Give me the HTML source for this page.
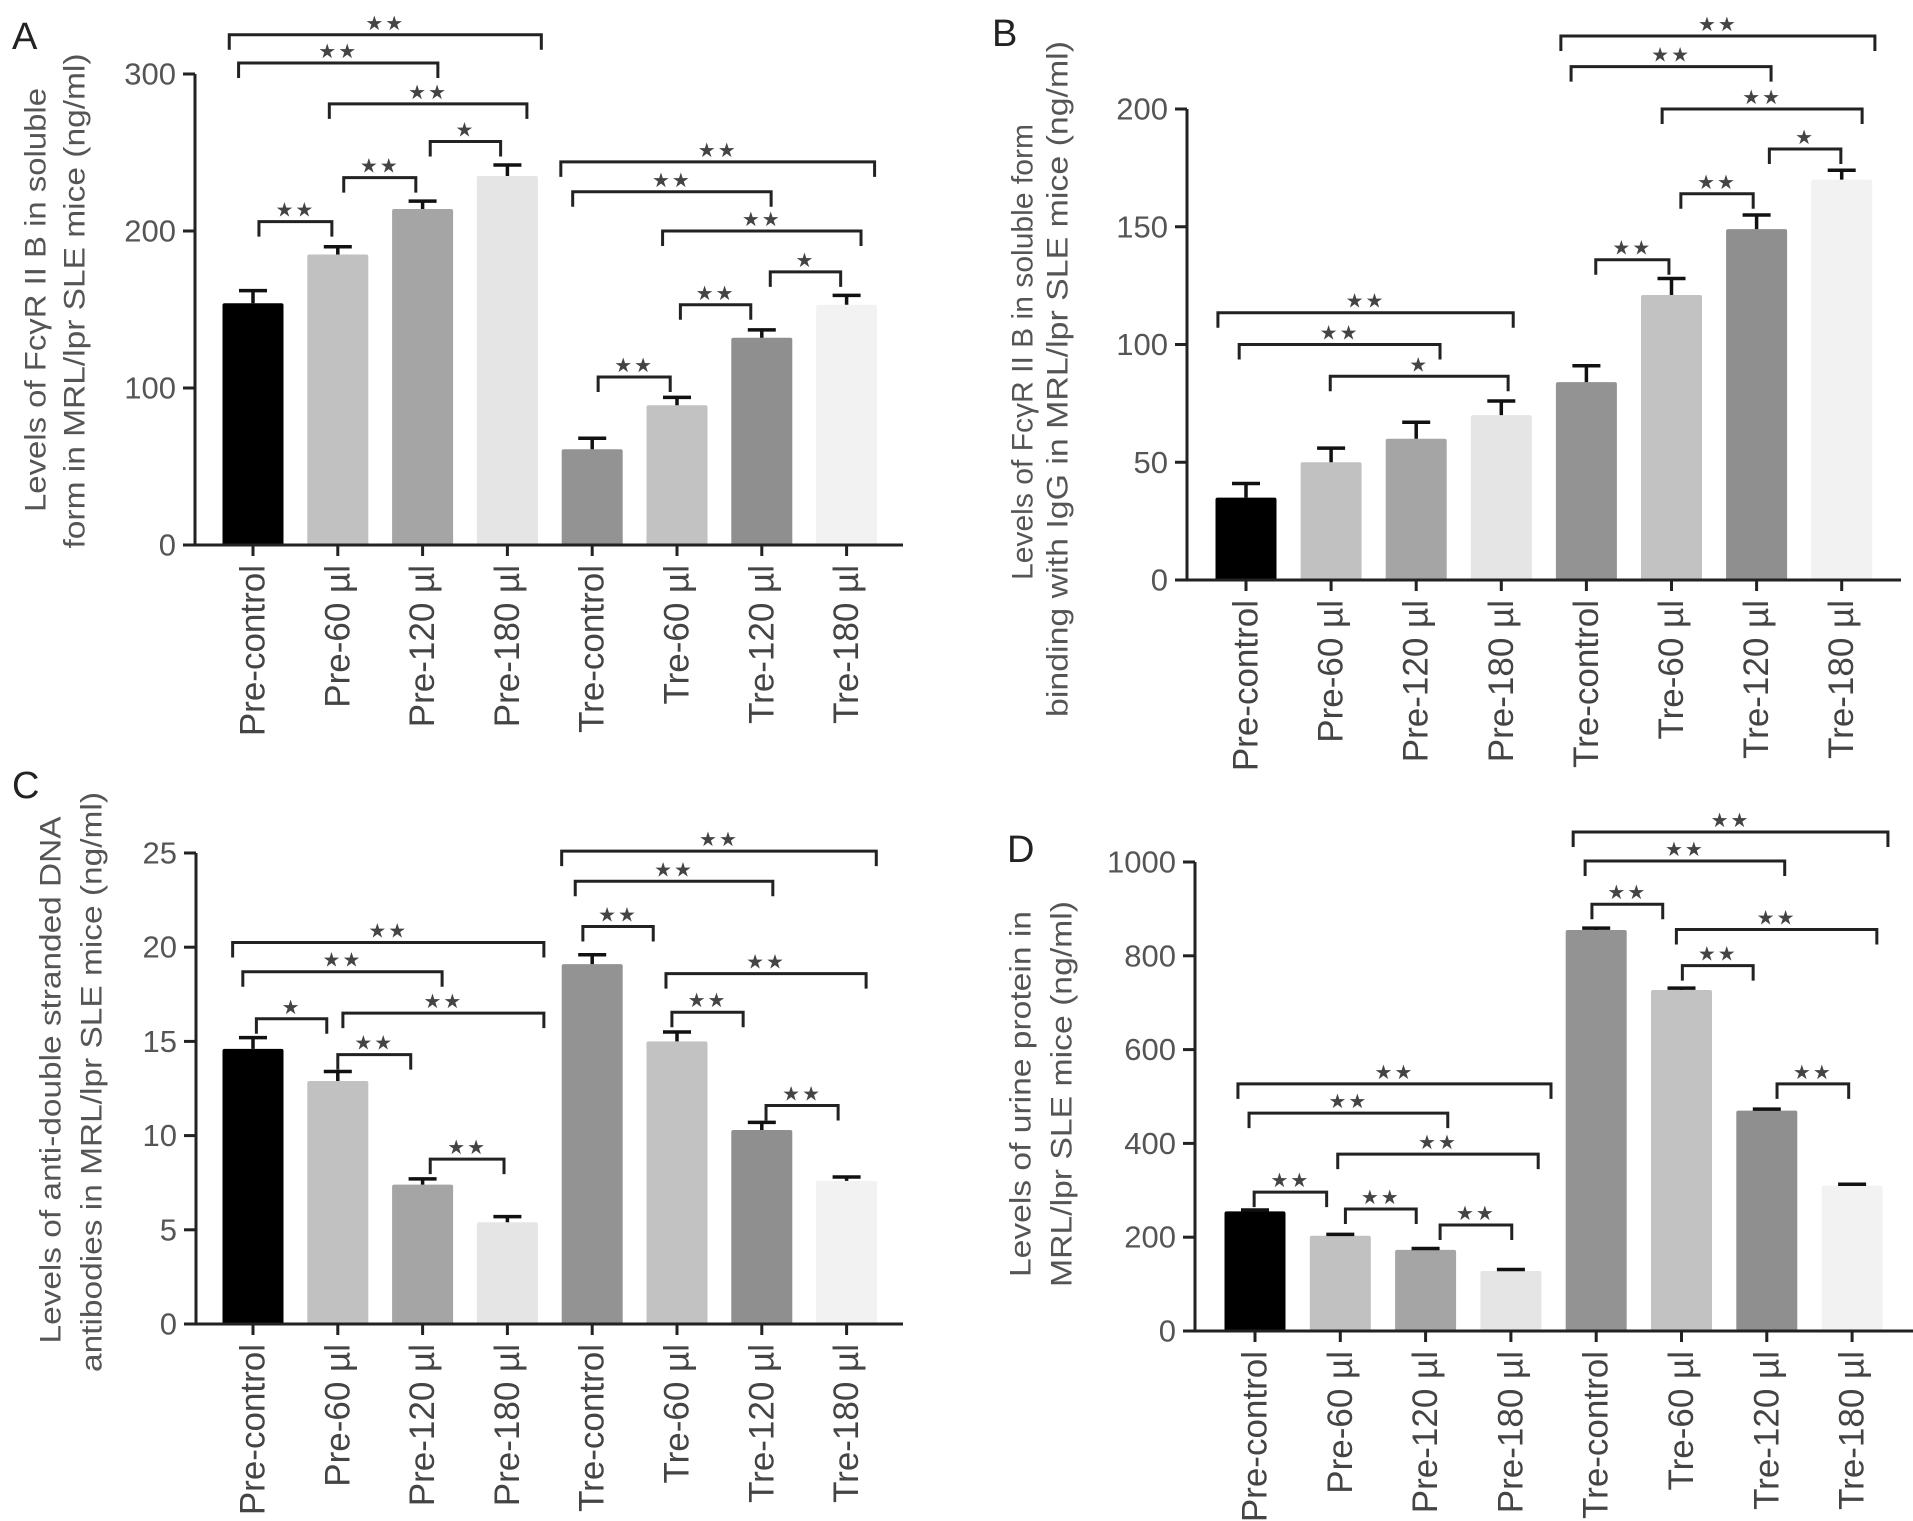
<!DOCTYPE html>
<html><head><meta charset="utf-8"><style>
html,body{margin:0;padding:0;background:#fff;}
svg{display:block;font-family:"Liberation Sans",sans-serif;}
</style></head>
<body>
<svg id="fig" width="1913" height="1521" viewBox="0 0 1913 1521" xmlns="http://www.w3.org/2000/svg"></svg>
<script>
const categories = ["Pre-control","Pre-60 \u00b5l","Pre-120 \u00b5l","Pre-180 \u00b5l","Tre-control","Tre-60 \u00b5l","Tre-120 \u00b5l","Tre-180 \u00b5l"];
const barColors = ["#000000","#c1c1c1","#a5a5a5","#e5e5e5","#939393","#c2c2c2","#8f8f8f","#f2f2f2"];

const valuesA = [154,185,214,235,61,89,132,153];
const errorsA = [8,5,5,7,7,5,5,6];
const ticksA = [0,100,200,300];
const bracketsA = [[-0.28,3.40,325,"**"],[-0.17,2.18,307,"**"],[0.90,3.23,281,"**"],[2.09,2.92,257,"*"],[1.07,1.92,234,"**"],[0.07,0.93,206,"**"],[3.63,7.33,244,"**"],[3.77,6.11,225,"**"],[4.83,7.17,200,"**"],[6.10,6.93,174,"*"],[5.04,5.87,153,"**"],[4.07,4.92,107,"**"]];

const valuesB = [35,50,60,70,84,121,149,170];
const errorsB = [6,6,7,6,7,7,6,4];
const ticksB = [0,50,100,150,200];
const bracketsB = [[3.70,7.39,231,"**"],[3.82,6.17,218,"**"],[4.89,7.24,200,"**"],[6.15,6.99,183,"*"],[5.11,5.96,164,"**"],[4.11,4.97,136,"**"],[-0.33,3.14,113.5,"**"],[-0.08,2.28,100,"**"],[0.99,3.08,86.5,"*"]];

const valuesC = [14.6,12.9,7.4,5.4,19.1,15.0,10.3,7.6];
const errorsC = [0.6,0.5,0.3,0.3,0.5,0.5,0.4,0.2];
const ticksC = [0,5,10,15,20,25];
const bracketsC = [[3.64,7.35,25.1,"**"],[3.80,6.13,23.5,"**"],[3.89,4.72,21.1,"**"],[4.87,7.23,18.6,"**"],[4.94,5.78,16.55,"**"],[6.05,6.90,11.6,"**"],[-0.24,3.43,20.25,"**"],[-0.12,2.23,18.7,"**"],[0.04,0.87,16.2,"*"],[1.06,3.43,16.5,"**"],[1.00,1.86,14.3,"**"],[2.09,2.96,8.75,"**"]];

const valuesD = [255,203,173,128,855,727,470,310];
const errorsD = [3,3,3,3,4,4,3,3];
const ticksD = [0,200,400,600,800,1000];
const bracketsD = [[3.73,7.42,1064,"**"],[3.87,6.21,1002,"**"],[3.95,4.78,910,"**"],[4.94,7.29,856,"**"],[5.01,5.84,779,"**"],[6.12,6.96,527,"**"],[-0.20,3.47,527,"**"],[-0.07,2.26,464.5,"**"],[0.97,3.32,377,"**"],[-0.01,0.84,296,"**"],[1.06,1.89,260,"**"],[2.17,3.01,226,"**"]];

const NS = "http://www.w3.org/2000/svg";
const svg = document.getElementById("fig");
function mk(tag, attrs, parent){
  const e = document.createElementNS(NS, tag);
  for (const k in attrs) e.setAttribute(k, attrs[k]);
  (parent||svg).appendChild(e);
  return e;
}

function panel(cfg){
  const g = mk("g", {});
  
  
  const yScale = v => cfg.zeroY - (cfg.zeroY - cfg.topY) * v / cfg.max;
  const xScale = i => cfg.c0 + cfg.step * i;
  const bw = 61;

  const L = mk("text", {x: cfg.letterX, y: cfg.letterY, "font-size": 38, fill: "#222"}, g);
  L.textContent = cfg.id;
  
  

  cfg.values.forEach((v, i) => {
    const x = xScale(i), y = yScale(v);
    const r = mk("rect", {x: x - bw/2, y: y, width: bw, height: cfg.zeroY - y, fill: barColors[i], rx: 2}, g);
    
    
    const ye = yScale(v + cfg.errors[i]);
    const eb = mk("path", {d: `M${x},${y} V${ye} M${x-14},${ye} H${x+14}`, stroke: "#111", "stroke-width": 3.5, fill: "none"}, g);
    
    
  });

  const ax = mk("path", {d: `M${cfg.axisX},${cfg.topY} V${cfg.zeroY} H${cfg.xEnd}`, stroke: "#222", "stroke-width": 3, fill: "none"}, g);
  
  

  cfg.ticks.forEach(t => {
    const y = yScale(t);
    mk("line", {x1: cfg.axisX - 12, x2: cfg.axisX, y1: y, y2: y, stroke: "#222", "stroke-width": 3}, g);
    const tl = mk("text", {x: cfg.axisX - 19, y: y, "font-size": 31, fill: "#555", "text-anchor": "end", "dominant-baseline": "central"}, g);
    tl.textContent = t;
    
    
  });

  categories.forEach((c, i) => {
    const x = xScale(i);
    mk("line", {x1: x, x2: x, y1: cfg.zeroY, y2: cfg.zeroY + 11, stroke: "#222", "stroke-width": 3}, g);
    const cl = mk("text", {x: 0, y: 0, "font-size": 35, fill: "#444", "text-anchor": "end", "dominant-baseline": "central", transform: `translate(${x},${cfg.zeroY + 20}) rotate(-90)`}, g);
    cl.textContent = c;
    
    
  });

  cfg.brackets.forEach(b => {
    const x1 = xScale(b[0]), x2 = xScale(b[1]), y = yScale(b[2]);
    const p = mk("path", {d: `M${x1},${y+15} V${y} H${x2} V${y+15}`, stroke: "#222", "stroke-width": 3, fill: "none"}, g);
    
    
    const s = mk("text", {x: (x1 + x2) / 2, y: y - 5, "font-size": 20, fill: "#444", "text-anchor": "middle", "font-family": "DejaVu Sans, sans-serif", "letter-spacing": 2}, g);
    s.textContent = b[3] === "**" ? "\u2605\u2605" : "\u2605";
    
    
  });

  cfg.titles.forEach(t => {
    const tt = mk("text", {x: 0, y: 0, "font-size": 30, fill: "#555", "text-anchor": "middle", "dominant-baseline": "central", textLength: t.len, lengthAdjust: "spacingAndGlyphs", transform: `translate(${t.x},${t.cy}) rotate(-90)`}, g);
    tt.textContent = t.text;
    
    
  });
}

panel({id:"A", values: valuesA, errors: errorsA, ticks: ticksA, brackets: bracketsA, max: 300,
  axisX: 195, zeroY: 545, topY: 74, c0: 253, step: 84.8, xEnd: 903, letterX: 12, letterY: 49,
  titles: [{text:"Levels of Fc\u03b3R II B in soluble", x: 36, cy: 300, len: 424},
           {text:"form in MRL/lpr SLE mice (ng/ml)", x: 75, cy: 301, len: 495}]});
panel({id:"B", values: valuesB, errors: errorsB, ticks: ticksB, brackets: bracketsB, max: 200,
  axisX: 1187, zeroY: 580, topY: 109, c0: 1246, step: 85.1, xEnd: 1901, letterX: 992, letterY: 46,
  titles: [{text:"Levels of Fc\u03b3R II B in soluble form", x: 1023, cy: 352, len: 456},
           {text:"binding with IgG in MRL/lpr SLE mice (ng/ml)", x: 1058, cy: 379, len: 676}]});
panel({id:"C", values: valuesC, errors: errorsC, ticks: ticksC, brackets: bracketsC, max: 25,
  axisX: 196, zeroY: 1324, topY: 853, c0: 253, step: 84.8, xEnd: 903, letterX: 12, letterY: 798,
  titles: [{text:"Levels of anti-double stranded DNA", x: 51, cy: 1080, len: 527},
           {text:"antibodies in MRL/lpr SLE mice (ng/ml)", x: 92, cy: 1082, len: 580}]});
panel({id:"D", values: valuesD, errors: errorsD, ticks: ticksD, brackets: bracketsD, max: 1000,
  axisX: 1195, zeroY: 1331, topY: 862, c0: 1255, step: 85.3, xEnd: 1913, letterX: 1007, letterY: 862,
  titles: [{text:"Levels of urine protein in", x: 1021, cy: 1094, len: 366},
           {text:"MRL/lpr SLE mice (ng/ml)", x: 1062, cy: 1094, len: 386}]});
</script>
</body></html>
